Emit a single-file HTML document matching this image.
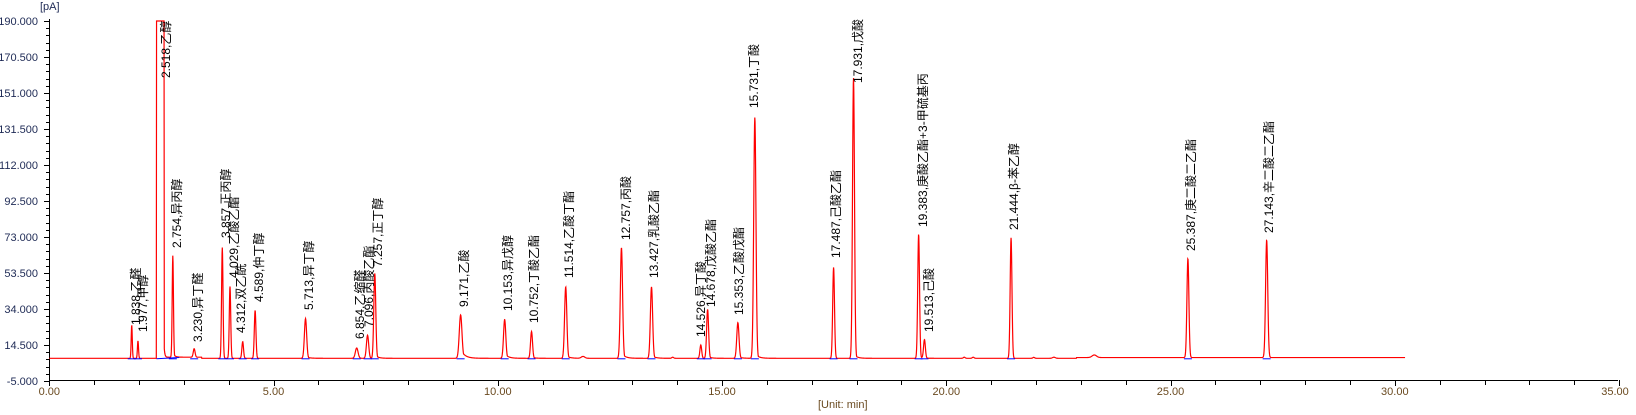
<!DOCTYPE html>
<html><head><meta charset="utf-8">
<style>
html,body{margin:0;padding:0;background:#fff;}
svg{display:block;}
.yl{font:11px "Liberation Sans",sans-serif;fill:#1e2a55;text-anchor:end;}
.xl{font:11px "Liberation Sans",sans-serif;fill:#6a4a20;text-anchor:middle;}
.pl{font:12px "Liberation Sans","Noto Sans CJK SC",sans-serif;fill:#000;}
</style></head>
<body>
<svg id="c" width="1636" height="415" viewBox="0 0 1636 415" xmlns="http://www.w3.org/2000/svg">
<g id="axes" stroke="#000" stroke-width="1" fill="none">
<line x1="49.5" y1="19" x2="49.5" y2="381"/>
<line x1="49" y1="380.5" x2="1618" y2="380.5"/>
</g>
<g id="ticks" stroke="#000" stroke-width="1"></g>
<text x="40" y="10" class="yl" style="text-anchor:start">[pA]</text>
<text class="yl" x="38" y="25">190.000</text>
<text class="yl" x="38" y="61">170.500</text>
<text class="yl" x="38" y="97">151.000</text>
<text class="yl" x="38" y="133">131.500</text>
<text class="yl" x="38" y="169">112.000</text>
<text class="yl" x="38" y="205">92.500</text>
<text class="yl" x="38" y="241">73.000</text>
<text class="yl" x="38" y="277">53.500</text>
<text class="yl" x="38" y="313">34.000</text>
<text class="yl" x="38" y="349">14.500</text>
<text class="yl" x="38" y="385">-5.000</text>
<text class="xl" x="49.3" y="395">0.00</text>
<text class="xl" x="273.5" y="395">5.00</text>
<text class="xl" x="497.8" y="395">10.00</text>
<text class="xl" x="722" y="395">15.00</text>
<text class="xl" x="946.3" y="395">20.00</text>
<text class="xl" x="1170.5" y="395">25.00</text>
<text class="xl" x="1394.8" y="395">30.00</text>
<text class="xl" x="1615" y="395">35.00</text>
<text class="xl" x="818" y="408" style="text-anchor:start">[Unit: min]</text>
<path id="sig" fill="none" stroke="#ff0000" stroke-width="1.2"/>
<g id="blue" stroke="#0000ff" stroke-width="1"></g>
<g class="pl">
<text transform="translate(140,325) rotate(-90)">1.838,乙醛</text>
<text transform="translate(147,332) rotate(-90)">1.977,甲醇</text>
<text transform="translate(170,78) rotate(-90)">2.518,乙醇</text>
<text transform="translate(181,248) rotate(-90)">2.754,异丙醇</text>
<text transform="translate(202,342) rotate(-90)">3.230,异丁醛</text>
<text transform="translate(230,238) rotate(-90)">3.857,正丙醇</text>
<text transform="translate(238,278) rotate(-90)">4.029,乙酸乙酯</text>
<text transform="translate(245,333) rotate(-90)">4.312,双乙酰</text>
<text transform="translate(263,302) rotate(-90)">4.589,仲丁醇</text>
<text transform="translate(313,310) rotate(-90)">5.713,异丁醇</text>
<text transform="translate(364,339) rotate(-90)">6.854,乙缩醛</text>
<text transform="translate(373,327) rotate(-90)">7.096,丙酸乙酯</text>
<text transform="translate(382,267) rotate(-90)">7.257,正丁醇</text>
<text transform="translate(468,307) rotate(-90)">9.171,乙酸</text>
<text transform="translate(512,311) rotate(-90)">10.153,异戊醇</text>
<text transform="translate(538,323) rotate(-90)">10.752,丁酸乙酯</text>
<text transform="translate(573,278) rotate(-90)">11.514,乙酸丁酯</text>
<text transform="translate(630,240) rotate(-90)">12.757,丙酸</text>
<text transform="translate(658,278) rotate(-90)">13.427,乳酸乙酯</text>
<text transform="translate(705,337) rotate(-90)">14.526,异丁酸</text>
<text transform="translate(715,307) rotate(-90)">14.678,戊酸乙酯</text>
<text transform="translate(743,315) rotate(-90)">15.353,乙酸戊酯</text>
<text transform="translate(758,108) rotate(-90)">15.731,丁酸</text>
<text transform="translate(840,258) rotate(-90)">17.487,己酸乙酯</text>
<text transform="translate(862,83) rotate(-90)">17.931,戊酸</text>
<text transform="translate(927,227) rotate(-90)">19.383,庚酸乙酯+3-甲硫基丙</text>
<text transform="translate(933,332) rotate(-90)">19.513,己酸</text>
<text transform="translate(1018,230) rotate(-90)">21.444,β-苯乙醇</text>
<text transform="translate(1195,251) rotate(-90)">25.387,庚二酸二乙酯</text>
<text transform="translate(1273,233) rotate(-90)">27.143,辛二酸二乙酯</text>
</g>
</svg>
<script>
(function(){
var NS="http://www.w3.org/2000/svg";
function X(t){return 49.3+44.85*t;}
function Y(v){return 381-(v+5)*1.846;}
var tk=document.getElementById('ticks');
function ln(g,a,b,c,d){var l=document.createElementNS(NS,'line');l.setAttribute('x1',a);l.setAttribute('y1',b);l.setAttribute('x2',c);l.setAttribute('y2',d);g.appendChild(l);}
for(var i=0;i<=35;i++){var x=Math.round(X(i))+0.5;ln(tk,x,380,x,(i%5==0)?386:385);}
for(var k=0;k<=50;k++){var v=-5+k*3.9;var y=Math.round(Y(v))+0.5;ln(tk,(k%5==0)?44:46,y,49,y);}
var P=[[1.838,18,0.012,0],[1.977,9.5,0.012,0],[2.754,55,0.014,0.1],[3.230,4.6,0.02,0],
[3.857,60,0.016,0],[4.029,39,0.016,0],[4.312,9,0.018,0],[4.589,26,0.018,0],[5.713,21.5,0.025,0.1],
[6.854,5.6,0.03,0],[7.096,12.5,0.025,0],[7.257,46,0.022,0.1],[9.171,23.5,0.03,0.5],[10.153,21,0.025,0.3],
[10.752,14.5,0.022,0.1],[11.514,38.7,0.025,0.1],[11.9,1,0.04,0],[12.757,60,0.025,0.12],[13.427,38.7,0.025,0.1],
[13.9,0.6,0.02,0],[14.526,7.2,0.02,0],[14.678,26.5,0.022,0.1],[15.353,19.3,0.025,0.1],[15.731,130.5,0.025,0.05],
[17.487,49.3,0.02,0],[17.931,152,0.022,0.04],[19.383,67.3,0.02,0.05],[19.513,10,0.02,0],[20.4,0.6,0.02,0],[20.6,0.6,0.02,0],
[21.444,65.3,0.02,0],[21.95,0.5,0.02,0],[22.4,0.6,0.03,0],[23.3,1.4,0.05,0],[25.387,53.7,0.022,0],[27.143,63.7,0.024,0]];
function f(t){
 var v=7.3;
 if(t>2.4&&t<3.4)v+=0.6;
 if(t>22.9)v+=0.4;
 for(var i=0;i<P.length;i++){var p=P[i],d=t-p[0];
  if(Math.abs(d)>1.0)continue;
  var s=p[2];var g=Math.exp(-d*d/(2*s*s));
  if(d>0&&p[3]>0){var tl=p[3]*0.3*Math.exp(-(d-s)/(s*3));if(d>s)g=Math.max(g,Math.min(tl,1));}
  v+=p[1]*g;}
 return v;
}
var d="";var t0=0,t1=30.23;
for(var x=X(t0);x<=X(t1);x+=0.25){var t=(x-49.3)/44.85;var v;
 if(t>=2.39&&t<=2.56)v=190; else v=f(t);
 if(t>2.56&&t<2.66)v=Math.max(v,7.9+6*Math.exp(-(t-2.56)/0.015));
 var y=Math.max(Y(v),20);
 d+=(d?"L":"M")+x.toFixed(2)+" "+y.toFixed(2);}
document.getElementById('sig').setAttribute('d',d);
var bl=document.getElementById('blue');
for(var i=0;i<P.length;i++){if(P[i][1]<4)continue;var x=X(P[i][0]);var y=Y(7.3)+0.5;ln(bl,x-4,y,x+4,y);}
ln(bl,X(2.39),Y(7.3)+0.5,X(2.9),Y(8)+0.5);
})();
</script>
</body></html>
